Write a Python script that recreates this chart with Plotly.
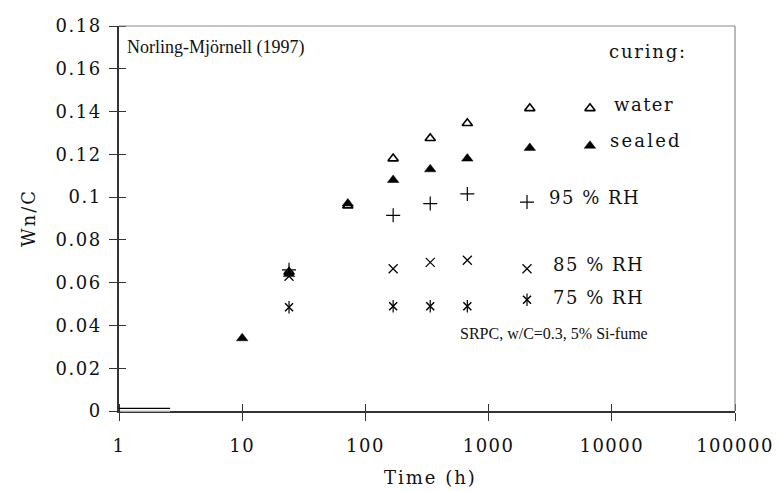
import plotly.graph_objects as go

# ---- data ----
time_h = [10, 24, 72, 168, 336, 672, 2160]
water = [None, 0.065, 0.096, 0.118, 0.1275, 0.1345, 0.1415]
sealed = [0.034, 0.064, 0.097, 0.108, 0.113, 0.118, 0.123]
rh95_t = [24, 168, 336, 672]
rh95 = [0.066, 0.0915, 0.097, 0.1015]
rh85_t = [24, 168, 336, 672]
rh85 = [0.063, 0.0665, 0.0695, 0.0705]
rh75_t = [24, 168, 336, 672]
rh75 = [0.0485, 0.049, 0.049, 0.049]

# legend symbols (drawn inside the plot like the original)
leg_ws_t = [6650, 6650]
leg_ws_y = [0.1415, 0.124]
leg_rh_t = [2050, 2050, 2050]
leg_rh_y = [0.0977, 0.0665, 0.052]

x_ticks = [1, 10, 100, 1000, 10000, 100000]
x_ticktext = ["1", "10", "100", "1000", "10000", "100000"]
y_ticks = [0, 0.02, 0.04, 0.06, 0.08, 0.1, 0.12, 0.14, 0.16, 0.18]
y_ticktext = ["0", "0.02", "0.04", "0.06", "0.08", "0.1", "0.12", "0.14", "0.16", "0.18"]

SERIF = "'DejaVu Serif', 'Liberation Serif', serif"
TIMES = "'Liberation Serif', serif"


def sp(t, s=1.5):
    return f'<span style="letter-spacing:{s}px">{t}</span>'


fig = go.Figure()
blk = "black"

def add(x, y, symbol, size, lw=1.3, color=blk):
    fig.add_trace(go.Scatter(
        x=x, y=y, mode="markers", showlegend=False, hoverinfo="skip",
        marker=dict(symbol=symbol, size=size, color=color,
                    line=dict(color=blk, width=lw))))

# water (open triangles) and sealed (filled triangles)
add(time_h, water, "triangle-up-open", 9, 1.6)
add(time_h, sealed, "triangle-up", 10, 0.5)
add(rh95_t, rh95, "cross-thin-open", 10, 1.2)
add(rh85_t, rh85, "x-thin-open", 9, 1.2)
add(rh75_t, rh75, "x-thin-open", 8, 1.5)
add(rh75_t, rh75, "line-ns-open", 9, 1.2)

# legend symbols
add([leg_ws_t[0]], [leg_ws_y[0]], "triangle-up-open", 9, 1.6)
add([leg_ws_t[1]], [leg_ws_y[1]], "triangle-up", 10, 0.5)
add([leg_rh_t[0]], [leg_rh_y[0]], "cross-thin-open", 10, 1.2)
add([leg_rh_t[1]], [leg_rh_y[1]], "x-thin-open", 9, 1.2)
add([leg_rh_t[2]], [leg_rh_y[2]], "x-thin-open", 8, 1.5)
add([leg_rh_t[2]], [leg_rh_y[2]], "line-ns-open", 9, 1.2)

axis_col = "#333333"
fig.update_layout(
    width=780, height=491,
    margin=dict(l=119, r=45, t=26, b=80),
    paper_bgcolor="white", plot_bgcolor="white",
    font=dict(family=SERIF, size=18, color="#111111"),
    xaxis=dict(
        type="log", range=[0, 5], tickmode="array", automargin=False,
        tickvals=x_ticks, ticktext=[sp(t) for t in x_ticktext],
        showgrid=False, zeroline=False, showline=True, linecolor=axis_col, linewidth=1.5,
        ticks="outside", ticklen=8, tickwidth=1, tickcolor=axis_col,
        minor=dict(tickmode="array", tickvals=x_ticks, ticks="inside", ticklen=7,
                   tickwidth=1, tickcolor=axis_col, showgrid=False),
        ticklabelstandoff=10,
        tickfont=dict(family=SERIF, size=18),
    ),
    yaxis=dict(
        range=[0, 0.18], tickmode="array", automargin=False,
        tickvals=y_ticks, ticktext=[sp(t) for t in y_ticktext],
        showgrid=False, zeroline=False, showline=True, linecolor=axis_col, linewidth=1.5,
        ticks="outside", ticklen=8, tickwidth=1, tickcolor=axis_col,
        minor=dict(tickmode="array", tickvals=y_ticks, ticks="inside", ticklen=7,
                   tickwidth=1, tickcolor=axis_col, showgrid=False),
        ticklabelstandoff=4,
        tickfont=dict(family=SERIF, size=18),
    ),
)

# top and right frame (light grey)
fig.add_shape(type="line", xref="paper", yref="paper", x0=0, x1=1, y0=1, y1=1,
              line=dict(color="#8a8a8a", width=1.2))
fig.add_shape(type="line", xref="paper", yref="paper", x0=1, x1=1, y0=0, y1=1,
              line=dict(color="#8a8a8a", width=1.2))
# small artefact at the origin
fig.add_shape(type="line", xref="paper", yref="paper", x0=0.002, x1=0.083, y0=0, y1=0,
              line=dict(color="#d0d0d0", width=1.6))
fig.add_shape(type="line", xref="paper", yref="paper", x0=0, x1=0.083, y0=0.007, y1=0.007,
              line=dict(color="black", width=1.2))

def ann(text, x, y, family=SERIF, size=18, xanchor="left", angle=0):
    fig.add_annotation(text=text, xref="paper", yref="paper", x=x, y=y,
                       xanchor=xanchor, yanchor="middle", showarrow=False,
                       textangle=angle,
                       font=dict(family=family, size=size, color="#111111"))

# axis titles
ann(sp("Time (h)", 2), 0.506, -0.174, xanchor="center")
ann(sp("Wn/C", 2), -0.148, 0.501, xanchor="center", angle=-90)

ann("Norling-Mjörnell (1997)", 0.010, 0.943, TIMES, 18)
ann(sp("curing:", 1.8), 0.792, 0.933)
ann(sp("water", 1.5), 0.801, 0.795)
ann(sp("sealed", 2.2), 0.794, 0.702)
ann(sp("95 % RH", 1.5), 0.695, 0.554)
ann(sp("85 % RH", 1.5), 0.702, 0.380)
ann(sp("75 % RH", 1.5), 0.702, 0.294)
ann("SRPC, w/C=0.3, 5% Si-fume", 0.551, 0.201, TIMES, 16)

fig.write_html("out.html")
